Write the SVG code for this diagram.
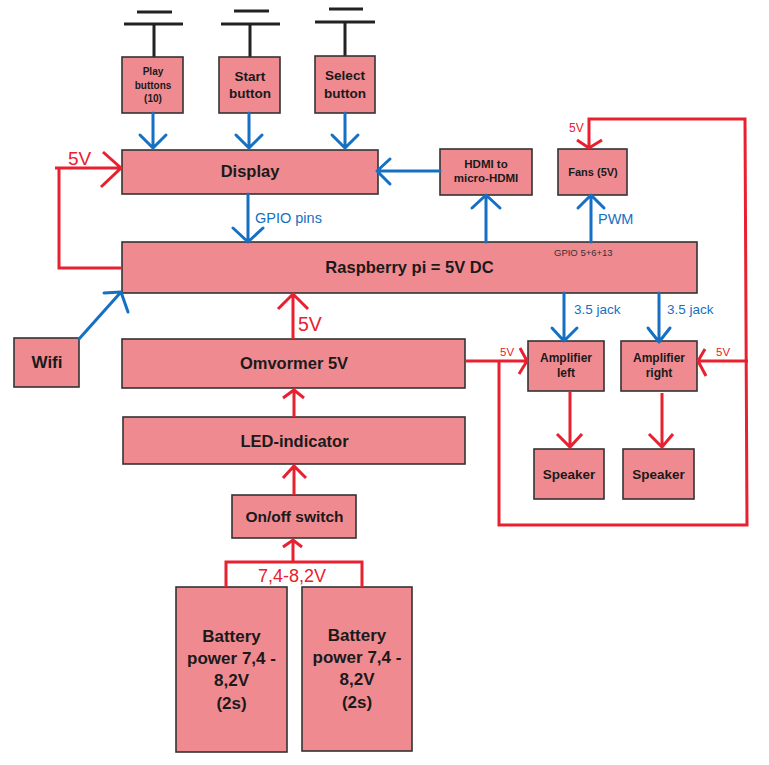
<svg xmlns="http://www.w3.org/2000/svg" width="769" height="765" viewBox="0 0 769 765">
<style>
.box{fill:#F08A91;stroke:#333;stroke-width:1.6}
.t{font-family:"Liberation Sans",Arial,sans-serif;font-weight:bold;fill:#1a1a1a;text-anchor:middle}
.sw{stroke:#222;stroke-width:3;fill:none}
.b{stroke:#1570C4;stroke-width:3;fill:none;stroke-linecap:round;stroke-linejoin:round}
.r{stroke:#E8202F;stroke-width:3;fill:none;stroke-linejoin:miter}
.bl{font-family:"Liberation Sans",Arial,sans-serif;fill:#1570C4}
.rl{font-family:"Liberation Sans",Arial,sans-serif;fill:#E8202F}
</style>
<rect width="769" height="765" fill="#fff"/>
<g id="play-buttons">
<path class="sw" d="M137 12H172M124 24H183M154 24V57"/>
<rect class="box" x="122" y="57" width="61" height="56"/>
<text class="t" font-size="10"><tspan x="153" y="75">Play</tspan><tspan x="153" y="89">buttons</tspan><tspan x="153" y="102">(10)</tspan></text>
</g>
<g id="start-button">
<path class="sw" d="M234 11H269M221 24H280M250 24V57"/>
<rect class="box" x="219" y="57" width="61" height="56"/>
<text class="t" font-size="13.5"><tspan x="250" y="81">Start</tspan><tspan x="250" y="98">button</tspan></text>
</g>
<g id="select-button">
<path class="sw" d="M329 9H363M315 22H375M345 22V56"/>
<rect class="box" x="315" y="56" width="60" height="57"/>
<text class="t" font-size="13.5"><tspan x="345" y="80">Select</tspan><tspan x="345" y="98">button</tspan></text>
</g>
<g id="display">
<rect class="box" x="122" y="150" width="256" height="44"/>
<text class="t" font-size="16.5" x="250" y="177">Display</text>
</g>
<g id="hdmi">
<rect class="box" x="440" y="149" width="92" height="46"/>
<text class="t" font-size="11.5"><tspan x="486" y="168">HDMI to</tspan><tspan x="486" y="182">micro-HDMI</tspan></text>
</g>
<g id="fans">
<rect class="box" x="558" y="149" width="69" height="46"/>
<text class="t" font-size="11" x="593" y="176">Fans (5V)</text>
</g>
<g id="raspberry-pi">
<rect class="box" x="122" y="242" width="575" height="51"/>
<text class="t" font-size="16.5" x="409.5" y="273">Raspberry pi = 5V DC</text>
<text font-family="Liberation Sans,Arial,sans-serif" font-size="9.5" fill="#333" x="554" y="256">GPIO 5+6+13</text>
</g>
<g id="wifi">
<rect class="box" x="14" y="338" width="65" height="49"/>
<text class="t" font-size="17" x="47" y="368">Wifi</text>
</g>
<g id="omvormer">
<rect class="box" x="122" y="339" width="343" height="49"/>
<text class="t" font-size="16.5" x="294" y="369">Omvormer 5V</text>
</g>
<g id="led-indicator">
<rect class="box" x="123" y="417" width="342" height="47"/>
<text class="t" font-size="16.5" x="294.5" y="447">LED-indicator</text>
</g>
<g id="onoff-switch">
<rect class="box" x="232" y="495" width="124" height="43"/>
<text class="t" font-size="15.5" x="294.5" y="522">On/off switch</text>
</g>
<g id="amp-left">
<rect class="box" x="528" y="341" width="76" height="50"/>
<text class="t" font-size="12"><tspan x="566" y="362">Amplifier</tspan><tspan x="566" y="377">left</tspan></text>
</g>
<g id="amp-right">
<rect class="box" x="621" y="341" width="76" height="50"/>
<text class="t" font-size="12"><tspan x="659" y="362">Amplifier</tspan><tspan x="659" y="377">right</tspan></text>
</g>
<g id="speaker-left">
<rect class="box" x="534" y="449" width="70" height="50"/>
<text class="t" font-size="13.5" x="569" y="479">Speaker</text>
</g>
<g id="speaker-right">
<rect class="box" x="623" y="449" width="71" height="50"/>
<text class="t" font-size="13.5" x="658.5" y="479">Speaker</text>
</g>
<g id="battery-left">
<rect class="box" x="176" y="587" width="111" height="165"/>
<text class="t" font-size="17"><tspan x="231.5" y="642">Battery</tspan><tspan x="231.5" y="664">power 7,4 -</tspan><tspan x="231.5" y="686">8,2V</tspan><tspan x="231.5" y="709">(2s)</tspan></text>
</g>
<g id="battery-right">
<rect class="box" x="302" y="587" width="110" height="164"/>
<text class="t" font-size="17"><tspan x="357" y="641">Battery</tspan><tspan x="357" y="663">power 7,4 -</tspan><tspan x="357" y="685">8,2V</tspan><tspan x="357" y="708">(2s)</tspan></text>
</g>
<g id="connectors">
<path class="b" d="M153 113V148M140 135L153 148L166 135"/>
<path class="b" d="M249 113V148M236 135L249 148L262 135"/>
<path class="b" d="M345 113V148M332 135L345 148L358 135"/>
<path class="b" d="M248 194V242M233 228L248 242L263 228"/>
<path class="b" d="M440 171H378M390 159L377 171L390 184"/>
<path class="b" d="M486 242V196M472 208L486 195L500 208"/>
<path class="b" d="M591 242V196M578 208L591 195L604 208"/>
<path class="b" d="M79 339L121 292M104 293L121 292L128 312"/>
<path class="b" d="M564 293V340M552 328L564 341L577 328"/>
<path class="b" d="M659 293V341M648 328L659 342L670 328"/>
<path class="r" d="M122 268H59V168M55 168H121M103 152L121 168L101 187"/>
<path class="r" d="M293 339V294M278 309L293 294L308 309"/>
<path class="r" d="M294 417V390M283 398L294 390L304 398"/>
<path class="r" d="M294 495V466M283 478L294 466L306 478"/>
<path class="r" d="M226 587V562H362V587M293 562V540M283 547L293 540L302 547"/>
<path class="r" d="M465 361H527M520 348L527 361L519 374"/>
<path class="r" d="M499 361V525H747L745 119H589V147M577 140L589 148L602 140"/>
<path class="r" d="M748 361H698M705 349L698 361L706 376"/>
<path class="r" d="M570 391V446M557 434L570 447L582 434"/>
<path class="r" d="M662 393V446M649 434L662 447L673 434"/>
<text class="rl" font-size="19" x="68" y="165">5V</text>
<text class="rl" font-size="19.5" x="298" y="331">5V</text>
<text class="rl" font-size="12" x="569" y="132">5V</text>
<text class="rl" font-size="11.5" x="500" y="356">5V</text>
<text class="rl" font-size="11.5" x="716" y="356">5V</text>
<text class="rl" font-size="18" x="258" y="582">7,4-8,2V</text>
<text class="bl" font-size="14.5" x="255" y="223">GPIO pins</text>
<text class="bl" font-size="14.5" x="598" y="224">PWM</text>
<text class="bl" font-size="13.5" x="574" y="314">3.5 jack</text>
<text class="bl" font-size="13.5" x="667" y="314">3.5 jack</text>
</g>
</svg>
